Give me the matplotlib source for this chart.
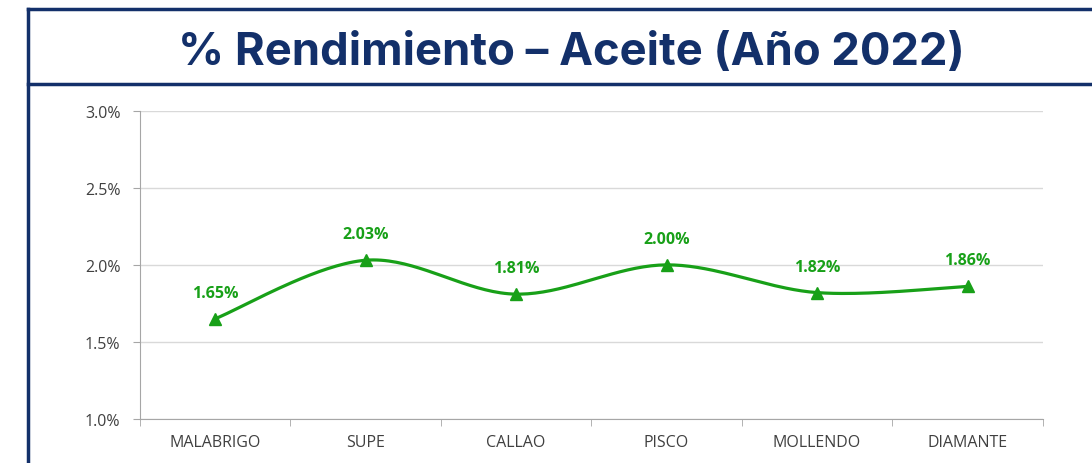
import matplotlib.pyplot as plt
import numpy as np
from matplotlib.lines import Line2D
from matplotlib.ticker import FuncFormatter

# Data
plantas = ['MALABRIGO', 'SUPE', 'CALLAO', 'PISCO', 'MOLLENDO', 'DIAMANTE']
rendimiento = [1.65, 2.03, 1.81, 2.00, 1.82, 1.86]
etiquetas = ['1.65%', '2.03%', '1.81%', '2.00%', '1.82%', '1.86%']

navy = '#13306A'
green = '#18A018'


def excel_smooth(x, y, n=40):
    # Bezier smoothing similar to Excel's "smoothed line"
    x = np.asarray(x, float)
    y = np.asarray(y, float)
    xs, ys = [], []
    for i in range(len(x) - 1):
        p0 = np.array([x[max(i - 1, 0)], y[max(i - 1, 0)]])
        p1 = np.array([x[i], y[i]])
        p2 = np.array([x[i + 1], y[i + 1]])
        p3 = np.array([x[min(i + 2, len(x) - 1)], y[min(i + 2, len(x) - 1)]])
        c1 = p1 + (p2 - p0) / 6
        c2 = p2 - (p3 - p1) / 6
        t = np.linspace(0, 1, n)[:, None]
        pts = ((1 - t) ** 3) * p1 + 3 * ((1 - t) ** 2) * t * c1 + 3 * (1 - t) * t ** 2 * c2 + t ** 3 * p2
        xs.extend(pts[:, 0])
        ys.extend(pts[:, 1])
    return np.array(xs), np.array(ys)


fig = plt.figure(figsize=(10.92, 4.64), dpi=100)
ax = fig.add_axes([0.128, 0.095, 0.827, 0.664])

xpos = np.arange(len(plantas))
sx, sy = excel_smooth(xpos, rendimiento)
ax.plot(sx, sy, color=green, linewidth=2.3, zorder=3)
ax.plot(xpos, rendimiento, linestyle='none', marker='^', markersize=8, color=green, zorder=4)

for xi, yi, lab in zip(xpos, rendimiento, etiquetas):
    ax.annotate(lab, (xi, yi), xytext=(0, 13), textcoords='offset points',
                ha='center', va='bottom', color=green, fontsize=11.5, fontweight='bold',
                family='Open Sans')

ax.set_xlim(-0.5, 5.5)
ax.set_ylim(1.0, 3.0)
ax.set_yticks([1.0, 1.5, 2.0, 2.5, 3.0])
ax.yaxis.set_major_formatter(FuncFormatter(lambda v, p: f'{v:.1f}%'))
ax.set_xticks(xpos)
ax.set_xticklabels(plantas)
ax.set_xticks(np.arange(-0.5, 6, 1), minor=True)
ax.tick_params(axis='x', which='major', length=0, pad=11, labelsize=11.5, labelcolor='#404040')
ax.tick_params(axis='x', which='minor', length=5, color='#A6A6A6', direction='out')
ax.tick_params(axis='y', length=5, color='#A6A6A6', labelsize=11.5, labelcolor='#404040', pad=9)
for lab in ax.get_xticklabels() + ax.get_yticklabels():
    lab.set_family('Open Sans')

ax.grid(axis='y', color='#D9D9D9', linewidth=1)
ax.set_axisbelow(True)
for s in ['top', 'right']:
    ax.spines[s].set_visible(False)
ax.spines['left'].set_color('#A6A6A6')
ax.spines['bottom'].set_color('#A6A6A6')

# Frame and title block
fig.add_artist(Line2D([0.026, 0.026], [0, 0.978], color=navy, linewidth=2.5))
fig.add_artist(Line2D([0.026, 1.0], [0.978, 0.978], color=navy, linewidth=2.5))
fig.add_artist(Line2D([0.026, 1.0], [0.816, 0.816], color=navy, linewidth=2.5))
fig.text(0.523, 0.860, '% Rendimiento – Aceite (Año 2022)', ha='center', va='baseline',
         color=navy, fontsize=32.7, fontweight='bold', family='Inter')

fig.savefig('out.png', dpi=100)
